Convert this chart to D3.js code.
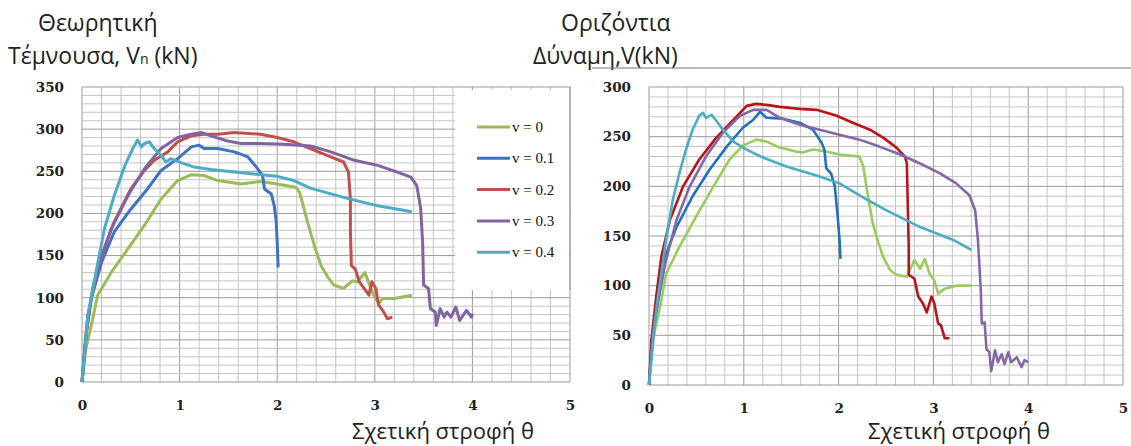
<!DOCTYPE html>
<meta charset="utf-8">
<script src="https://d3js.org/d3.v7.min.js"></script>
<style>
  body { margin: 0; background: #fff; }
  .tick text { font-family: 'DejaVu Serif', serif; font-weight: bold; font-size: 13.5px; fill: #222; }
  .title { font-family: 'Open Sans', sans-serif; font-size: 23px; fill: #222; }
  .xtitle { font-family: 'Open Sans', sans-serif; font-size: 22px; fill: #222; }
  .legend text { font-family: 'Liberation Serif', serif; font-size: 15px; fill: #111; }
</style>
<body>
<div id="my_dataviz"></div>
<script>

// data: [theta, V]
var xTicks = [0, 1, 2, 3, 4, 5];
var leftYTicks = [0, 50, 100, 150, 200, 250, 300, 350];
var rightYTicks = [0, 50, 100, 150, 200, 250, 300];
var seriesNames = ["v = 0", "v = 0.1", "v = 0.2", "v = 0.3", "v = 0.4"];
var leftColors = ["#9bbb59", "#3f72bf", "#c0504d", "#8064a2", "#4bacc6"];
var rightColors = ["#98cc5c", "#2271ba", "#b8141c", "#8468a6", "#4bacc6"];

// left chart: theoretical shear Vn
var leftV0 = [[0,0],[0.04,40],[0.095,67],[0.16,103],[0.3,130],[0.47,158],[0.64,186],[0.81,217],[0.98,239],[1.12,246],[1.25,245],[1.39,239],[1.63,235],[1.83,238],[2.0,235],[2.19,231],[2.23,225],[2.31,190],[2.38,162],[2.45,138],[2.51,126],[2.58,115],[2.68,111],[2.77,120],[2.82,119],[2.9,130],[2.94,117],[2.99,103],[3.04,93],[3.08,99],[3.2,99],[3.38,103]];
var leftV1 = [[0,0],[0.04,55],[0.095,99],[0.2,142],[0.33,178],[0.5,205],[0.67,229],[0.81,251],[0.98,265],[1.12,279],[1.2,281],[1.25,277],[1.39,277],[1.56,273],[1.7,267],[1.8,253],[1.85,245],[1.87,229],[1.94,223],[1.97,209],[1.99,190],[2.0,166],[2.01,136]];
var leftV2 = [[0,0],[0.044,59],[0.11,111],[0.2,150],[0.33,190],[0.5,229],[0.64,251],[0.74,263],[0.88,273],[0.98,285],[1.12,292],[1.25,294],[1.39,294],[1.56,296],[1.83,294],[2.0,290],[2.17,285],[2.34,277],[2.51,269],[2.68,261],[2.73,249],[2.75,217],[2.75,178],[2.76,138],[2.8,134],[2.84,119],[2.89,111],[2.94,103],[2.97,119],[3.01,111],[3.04,91],[3.08,85],[3.13,75],[3.18,77]];
var leftV3 = [[0,0],[0.06,79],[0.16,134],[0.3,182],[0.47,221],[0.64,253],[0.81,277],[0.98,290],[1.12,294],[1.22,296],[1.32,292],[1.49,286],[1.63,283],[1.83,283],[2.07,282],[2.34,280],[2.55,273],[2.79,263],[3.03,257],[3.23,249],[3.37,243],[3.43,233],[3.47,206],[3.49,166],[3.5,115],[3.55,111],[3.57,87],[3.62,83],[3.63,67],[3.67,87],[3.71,77],[3.74,83],[3.78,77],[3.83,89],[3.87,73],[3.94,85],[3.99,77],[4.0,81]];
var leftV4 = [[0,0],[0.06,79],[0.15,134],[0.23,182],[0.33,221],[0.44,257],[0.52,277],[0.57,287],[0.61,279],[0.64,283],[0.69,285],[0.74,277],[0.81,269],[0.86,261],[0.91,265],[1.02,260],[1.15,255],[1.32,252],[1.66,248],[2.0,244],[2.17,239],[2.34,230],[2.68,219],[3.03,209],[3.38,202]];

// right chart: horizontal force V
var rightV0 = [[0,0],[0.04,45],[0.13,85],[0.18,112],[0.32,139],[0.5,170],[0.68,200],[0.85,227],[0.99,241],[1.13,247],[1.24,245],[1.38,239],[1.55,235],[1.62,234],[1.73,237],[1.87,235],[2.01,232],[2.22,230],[2.26,220],[2.31,190],[2.36,163],[2.42,143],[2.47,129],[2.54,116],[2.61,111],[2.72,109],[2.8,126],[2.86,117],[2.91,127],[2.96,112],[3.01,105],[3.05,92],[3.12,97],[3.24,100],[3.4,100]];
var rightV1 = [[0,0],[0.04,55],[0.11,92],[0.18,132],[0.29,159],[0.46,190],[0.64,217],[0.82,240],[0.99,259],[1.1,267],[1.17,275],[1.24,269],[1.41,268],[1.59,264],[1.73,257],[1.82,244],[1.85,237],[1.87,218],[1.92,213],[1.96,200],[1.99,170],[2.01,146],[2.02,127]];
var rightV2 = [[0,0],[0.025,45],[0.08,92],[0.13,129],[0.22,166],[0.36,200],[0.53,227],[0.71,249],[0.89,267],[1.03,281],[1.13,283],[1.24,282],[1.38,280],[1.59,278],[1.77,277],[1.98,271],[2.15,264],[2.33,257],[2.47,249],[2.61,239],[2.7,230],[2.72,223],[2.73,180],[2.74,139],[2.74,111],[2.8,107],[2.84,89],[2.89,82],[2.93,73],[2.98,89],[3.01,82],[3.05,62],[3.08,60],[3.12,47],[3.17,47]];
var rightV3 = [[0,0],[0.04,52],[0.11,92],[0.18,126],[0.29,166],[0.43,200],[0.6,230],[0.78,254],[0.96,271],[1.1,277],[1.24,277],[1.38,269],[1.59,262],[1.8,257],[2.01,252],[2.22,247],[2.43,240],[2.65,232],[2.86,223],[3.07,213],[3.24,203],[3.38,191],[3.44,176],[3.47,146],[3.5,95],[3.51,62],[3.54,63],[3.56,36],[3.59,33],[3.61,14],[3.65,35],[3.68,23],[3.72,31],[3.75,21],[3.79,33],[3.82,23],[3.88,28],[3.93,18],[3.96,25],[4.0,23]];
var rightV4 = [[0,0],[0.08,79],[0.18,146],[0.25,186],[0.32,213],[0.39,237],[0.46,257],[0.53,271],[0.57,274],[0.6,269],[0.66,272],[0.71,266],[0.78,257],[0.89,245],[1.03,237],[1.2,229],[1.45,220],[1.8,210],[2.01,203],[2.22,191],[2.5,176],[2.86,159],[3.21,146],[3.4,136]];

var svg = d3.select("#my_dataviz")
  .append("svg")
    .attr("width", 1131)
    .attr("height", 446);

function drawPanel(opt) {
  var x = d3.scaleLinear().domain([0, 5]).range([opt.left, opt.right]);
  var y = d3.scaleLinear().domain([0, opt.yMax]).range([opt.bottom, opt.top]);
  var g = svg.append("g");

  // grid, minor every 0.2 / 10, major every 1 / 50
  g.selectAll(".vgrid")
    .data(d3.range(0, 26).map(function(i) { return i / 5; }))
    .enter().append("line")
      .attr("x1", function(d) { return x(d); })
      .attr("x2", function(d) { return x(d); })
      .attr("y1", y(0)).attr("y2", y(opt.yMax))
      .attr("stroke", function(d, i) { return i % 5 == 0 ? "#9a9a9a" : "#c4c4c4"; })
      .attr("stroke-width", 1);
  g.selectAll(".hgrid")
    .data(d3.range(0, opt.yMax + 1, 10))
    .enter().append("line")
      .attr("x1", x(0)).attr("x2", x(5))
      .attr("y1", function(d) { return y(d); })
      .attr("y2", function(d) { return y(d); })
      .attr("stroke", function(d) { return d % 50 == 0 ? "#9a9a9a" : "#c4c4c4"; })
      .attr("stroke-width", 1);

  // axes labels only
  g.append("g")
    .attr("transform", "translate(" + (opt.left - 4) + ",0)")
    .call(d3.axisLeft(y).tickValues(opt.yTicks).tickSize(0).tickPadding(14))
    .call(function(a) { a.select(".domain").remove(); });
  g.append("g")
    .attr("transform", "translate(0," + (opt.bottom + 15) + ")")
    .call(d3.axisBottom(x).tickValues(xTicks).tickSize(0).tickFormat(d3.format("d")))
    .call(function(a) { a.select(".domain").remove(); });

  var line = d3.line()
    .x(function(d) { return x(d[0]); })
    .y(function(d) { return y(d[1]); });

  return { g: g, x: x, y: y, line: line };
}

// left panel
var L = drawPanel({ left: 82, right: 570, top: 87, bottom: 382, yMax: 350, yTicks: leftYTicks });

// legend covers the grid
L.g.append("rect")
  .attr("x", 455).attr("y", 90).attr("width", 114).attr("height", 200)
  .attr("fill", "#fff");
L.g.append("line")
  .attr("x1", 570).attr("x2", 570).attr("y1", 87).attr("y2", 290)
  .attr("stroke", "#9a9a9a");

var leftSeries = [leftV0, leftV1, leftV2, leftV3, leftV4];
var rightSeries = [rightV0, rightV1, rightV2, rightV3, rightV4];

leftSeries.forEach(function(s, i) {
  L.g.append("path")
    .datum(s)
    .attr("fill", "none")
    .attr("stroke", leftColors[i])
    .attr("stroke-width", 3)
    .attr("stroke-linejoin", "round")
    .attr("d", L.line);
});

var legend = L.g.append("g").attr("class", "legend");
seriesNames.forEach(function(name, i) {
  var ly = 127 + i * 31.3;
  legend.append("line")
    .attr("x1", 477).attr("x2", 510).attr("y1", ly).attr("y2", ly)
    .attr("stroke", leftColors[i]).attr("stroke-width", 3);
  legend.append("text")
    .attr("x", 512).attr("y", ly + 5)
    .text(name);
});

// right panel
var R = drawPanel({ left: 649, right: 1123, top: 87, bottom: 385, yMax: 300, yTicks: rightYTicks });
rightSeries.forEach(function(s, i) {
  R.g.append("path")
    .datum(s)
    .attr("fill", "none")
    .attr("stroke", rightColors[i])
    .attr("stroke-width", 2.6)
    .attr("stroke-linejoin", "round")
    .attr("d", R.line);
});

// titles
svg.append("text").attr("class", "title").attr("x", 38).attr("y", 31).text("Θεωρητική");
var t2 = svg.append("text").attr("class", "title").attr("x", 8).attr("y", 64);
t2.append("tspan").text("Τέμνουσα, V");
t2.append("tspan").attr("font-size", "14px").text("n");
t2.append("tspan").text(" (kN)");

svg.append("text").attr("class", "title").attr("x", 561).attr("y", 31).text("Οριζόντια");
svg.append("text").attr("class", "title").attr("x", 533).attr("y", 64).text("Δύναμη,V(kN)");
svg.append("line")
  .attr("x1", 592).attr("x2", 1131).attr("y1", 68).attr("y2", 68)
  .attr("stroke", "#777").attr("stroke-width", 1);

svg.append("text").attr("class", "xtitle").attr("x", 352).attr("y", 439).text("Σχετική στροφή θ");
svg.append("text").attr("class", "xtitle").attr("x", 868).attr("y", 439).text("Σχετική στροφή θ");

</script>
</body>
